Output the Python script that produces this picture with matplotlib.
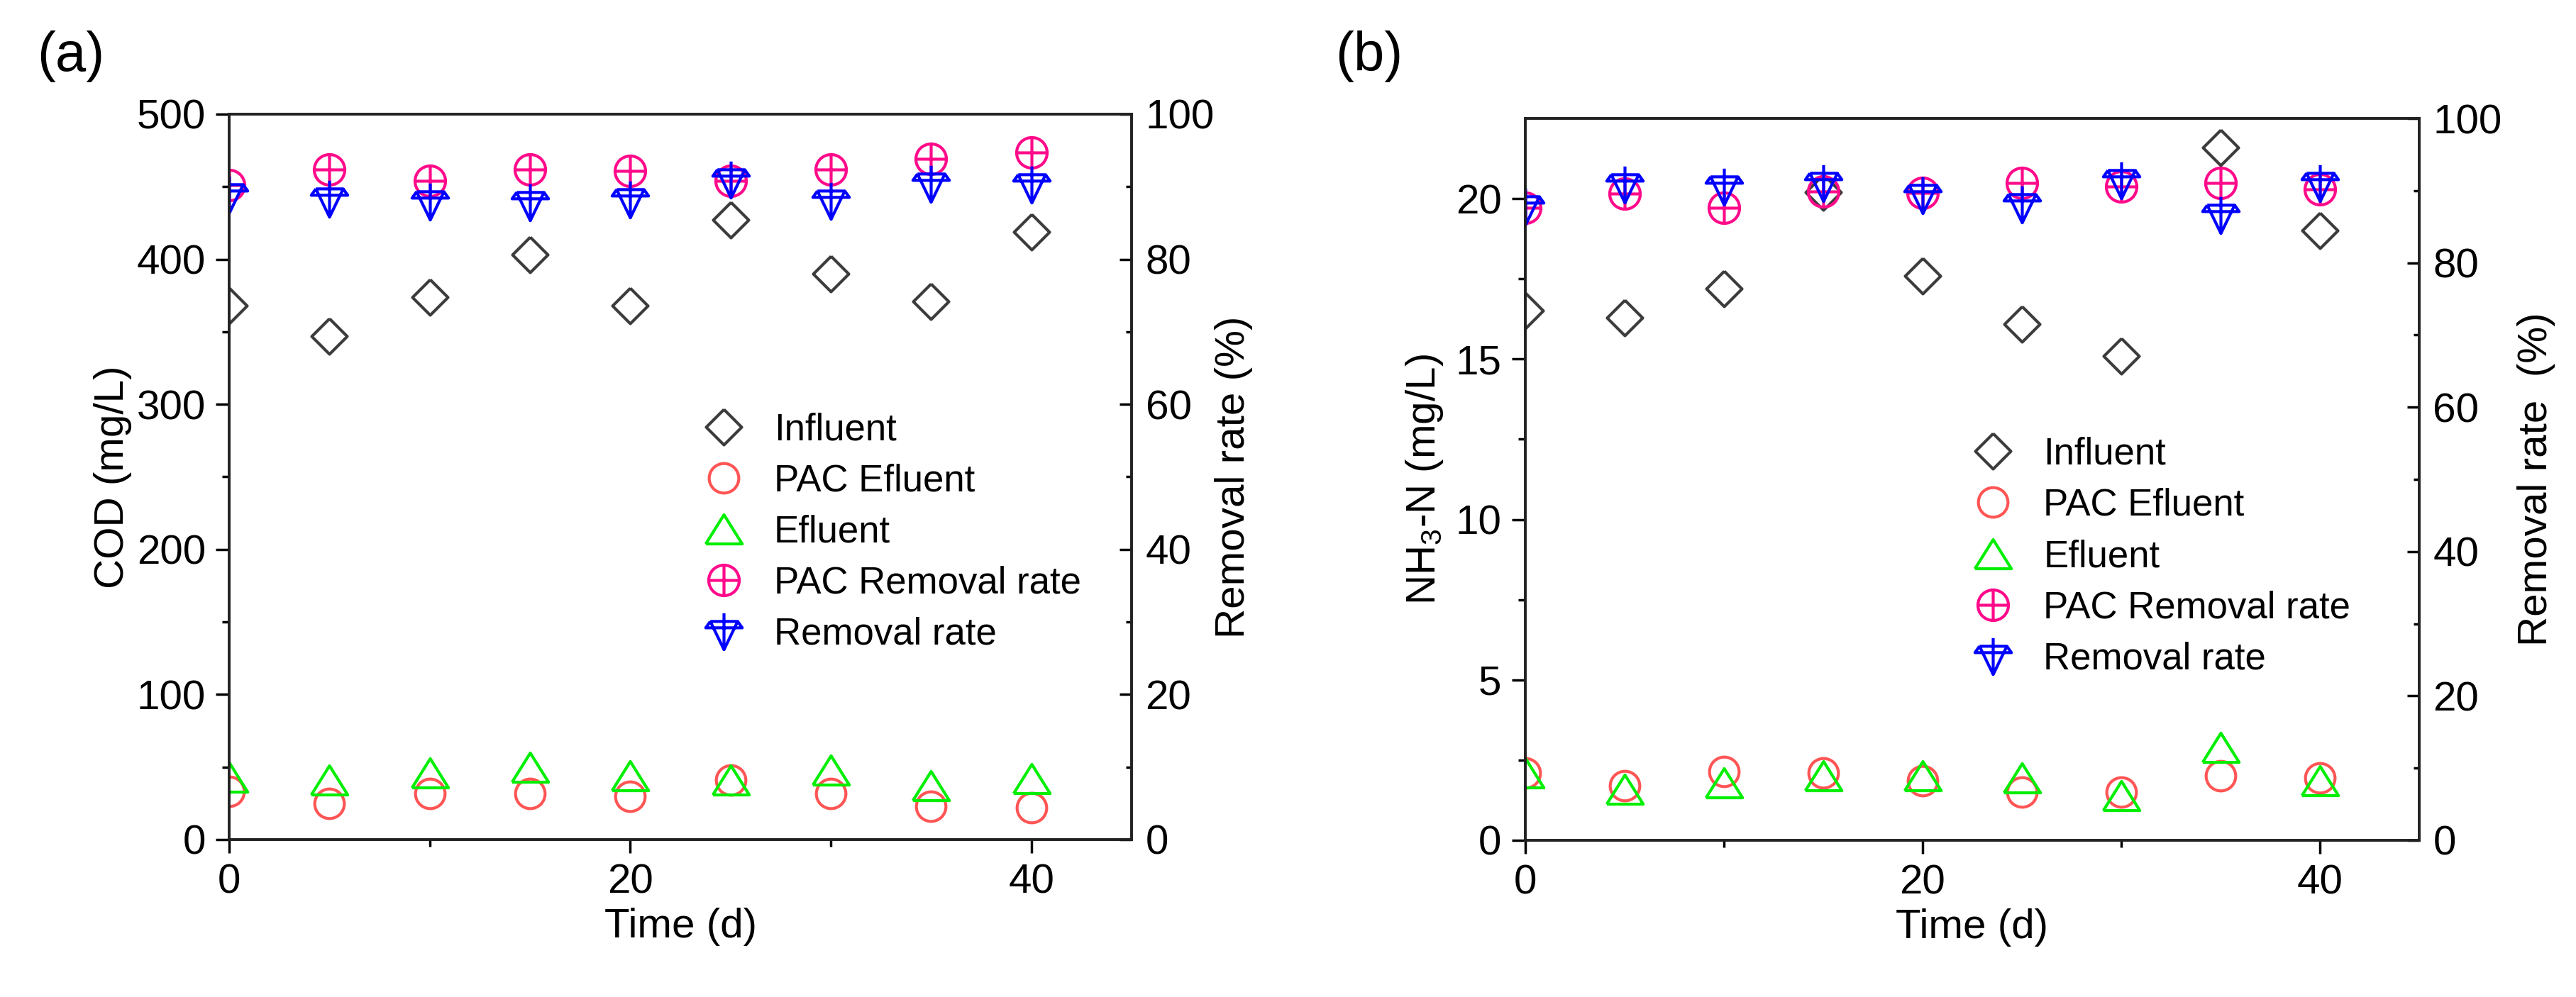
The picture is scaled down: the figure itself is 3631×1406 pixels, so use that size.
import numpy as np
import matplotlib
matplotlib.use("Agg")
import matplotlib.pyplot as plt
from matplotlib.path import Path

plt.rcParams['font.family'] = ['Liberation Sans', 'DejaVu Sans']
plt.rcParams['mathtext.fontset'] = 'custom'
plt.rcParams['mathtext.rm'] = 'Liberation Sans'
plt.rcParams['mathtext.it'] = 'Liberation Sans'

# time (d)
t = [0, 5, 10, 15, 20, 25, 30, 35, 40]

# (a) COD
cod_inf = [368, 347, 374, 403, 368, 427, 390, 371, 419]
cod_pac_eff = [33, 25, 32, 32, 30, 41, 32, 23, 22]
cod_eff = [43, 41, 46, 50, 44, 41, 48, 37, 42]
cod_pac_rr = [90.2, 92.4, 90.8, 92.4, 92.2, 90.8, 92.4, 93.8, 94.7]
cod_rr = [89.0, 88.4, 88.0, 87.9, 88.3, 91.0, 88.1, 90.4, 90.3]

# (b) NH3-N
nh_inf = [16.5, 16.3, 17.2, 20.2, 17.6, 16.1, 15.1, 21.6, 19.0]
nh_pac_eff = [2.1, 1.7, 2.15, 2.1, 1.85, 1.5, 1.5, 2.0, 1.95]
nh_eff = [2.1, 1.6, 1.8, 2.0, 2.0, 1.95, 1.4, 2.9, 1.85]
nh_pac_rr = [87.6, 89.6, 87.6, 89.9, 89.7, 91.1, 90.6, 91.1, 90.2]
nh_rr = [87.8, 90.9, 90.6, 91.1, 89.4, 88.1, 91.5, 86.6, 91.1]

labels = ['Influent', 'PAC Efluent', 'Efluent', 'PAC Removal rate', 'Removal rate']

M, L = Path.MOVETO, Path.LINETO
diamond = Path([(0, 1), (1, 0), (0, -1), (-1, 0), (0, 1)], [M, L, L, L, L])
tri = Path([(-1, -0.8), (1, -0.8), (0, 0.8), (-1, -0.8)], [M, L, L, L])
cross = Path([(-1, 0), (1, 0), (0, -1), (0, 1)], [M, L, M, L])
circ_plus = Path.make_compound_path(Path.unit_circle(), cross)
star_v = Path([(0, 1), (0, -1),
               (-0.75, 0.55), (0.75, 0.55), (0, -1), (-0.75, 0.55),
               (-0.75, 0.55), (-1, 0.2), (1, 0.2), (0.75, 0.55)],
              [M, L, M, L, L, L, M, L, L, L])

c_inf = '#3c3c3c'
c_red = '#ff5555'
c_green = '#00ee00'
c_mag = '#ff0a8a'
c_blue = '#0000ff'

fig = plt.figure(figsize=(36.31, 14.06), dpi=100)
axA = fig.add_axes([0.0890, 0.1579, 0.3503, 0.7276])
axB = fig.add_axes([0.5921, 0.1572, 0.3470, 0.7240])


def panel(ax, inf, pac_eff, eff, pac_rr, rr, ylim, yticks, yminor, ylab, rlab):
    ax2 = ax.twinx()
    kw = dict(linestyle='none', mfc='none', mew=3)
    h1, = ax.plot(t, inf, marker=diamond, ms=36, mec=c_inf, label=labels[0], **kw)
    h2, = ax.plot(t, pac_eff, marker='o', ms=30, mec=c_red, label=labels[1], **kw)
    h3, = ax.plot(t, eff, marker=tri, ms=37, mec=c_green, label=labels[2], **kw)
    h4, = ax2.plot(t, pac_rr, marker=circ_plus, ms=31, mec=c_mag, label=labels[3], **kw)
    h5, = ax2.plot(t, rr, marker=star_v, ms=37, mec=c_blue, label=labels[4], **kw)

    ax.set_xlim(0, 45)
    ax.set_ylim(*ylim)
    ax2.set_ylim(0, 100)
    ax.set_xticks([0, 20, 40])
    ax.set_xticks([10, 30], minor=True)
    ax.set_yticks(yticks)
    ax.set_yticks(yminor, minor=True)
    ax2.set_yticks([0, 20, 40, 60, 80, 100])
    ax2.set_yticks([10, 30, 50, 70, 90], minor=True)

    for a in (ax, ax2):
        for s in a.spines.values():
            s.set_linewidth(2.6)
            s.set_color('#222222')
    ax.tick_params(axis='both', which='major', direction='out', length=14,
                   width=2.5, labelsize=42, pad=10)
    ax.tick_params(axis='both', which='minor', direction='out', length=7, width=2.5)
    ax.tick_params(axis='x', top=False, which='both')
    ax2.tick_params(axis='y', which='major', direction='in', length=12,
                    width=2.5, labelsize=42, pad=14)
    ax2.tick_params(axis='y', which='minor', direction='in', length=6, width=2.5)

    ax.set_xlabel('Time (d)', fontsize=42)
    ax.xaxis.set_label_coords(0.5, -0.094)
    ax.set_ylabel(ylab, fontsize=42)
    ax2.set_ylabel(rlab, fontsize=42)
    return ax2, [h1, h2, h3, h4, h5]


a2, hA = panel(axA, cod_inf, cod_pac_eff, cod_eff, cod_pac_rr, cod_rr,
               (0, 500), [0, 100, 200, 300, 400, 500], [50, 150, 250, 350, 450],
               'COD (mg/L)', 'Removal rate (%)')
axA.yaxis.set_label_coords(-0.108, 0.5)
a2.yaxis.set_label_coords(1.092, 0.5)
a2.legend(hA, labels, loc='upper left', bbox_to_anchor=(0.5, 0.61),
          frameon=False, fontsize=38, labelspacing=0.42, handletextpad=0.6,
          handlelength=1.5, borderaxespad=0)

b2, hB = panel(axB, nh_inf, nh_pac_eff, nh_eff, nh_pac_rr, nh_rr,
               (0, 22.5), [0, 5, 10, 15, 20], [2.5, 7.5, 12.5, 17.5],
               'NH$_3$-N (mg/L)', 'Removal rate  (%)')
axB.yaxis.set_label_coords(-0.09, 0.5)
b2.yaxis.set_label_coords(1.11, 0.5)
b2.legend(hB, labels, loc='upper left', bbox_to_anchor=(0.475, 0.58),
          frameon=False, fontsize=38, labelspacing=0.42, handletextpad=0.6,
          handlelength=1.5, borderaxespad=0)

fig.text(100 / 3631, 1 - 80 / 1406, '(a)', fontsize=56, ha='center', va='center')
fig.text(1930 / 3631, 1 - 80 / 1406, '(b)', fontsize=56, ha='center', va='center')

fig.savefig('out.png', dpi=100)
